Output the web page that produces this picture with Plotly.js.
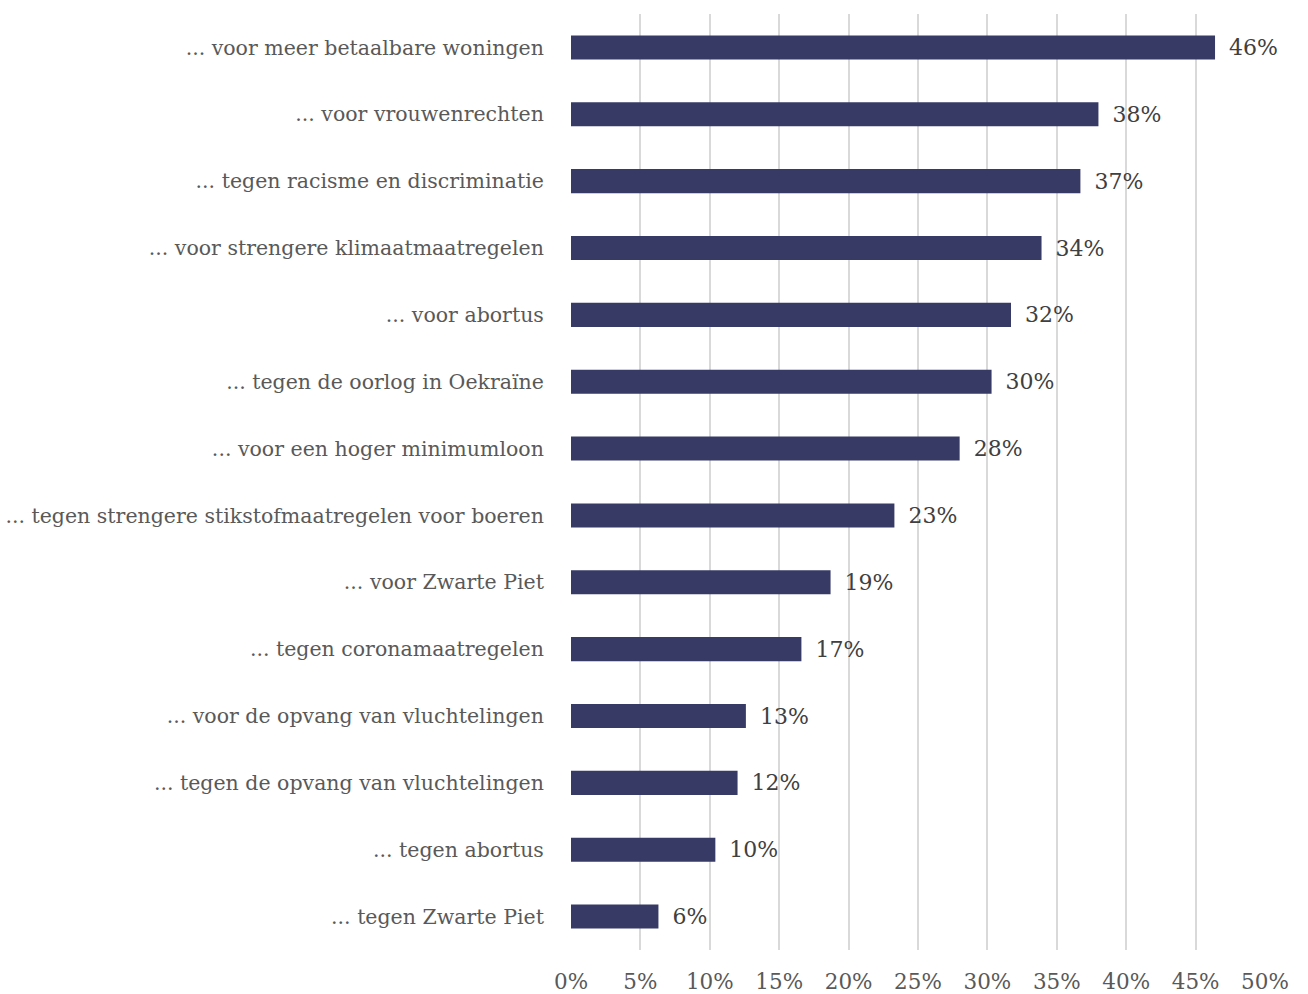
<!DOCTYPE html>
<html>
<head>
<meta charset="utf-8">
<script src="https://cdn.plot.ly/plotly-3.0.1.min.js"></script>
<style>html,body{margin:0;padding:0;background:#fff;}#chart{width:1308px;height:994px;}</style>
</head>
<body>
<div id="chart"></div>
<script>
const categories = [
  "... voor meer betaalbare woningen",
  "... voor vrouwenrechten",
  "... tegen racisme en discriminatie",
  "... voor strengere klimaatmaatregelen",
  "... voor abortus",
  "... tegen de oorlog in Oekraïne",
  "... voor een hoger minimumloon",
  "... tegen strengere stikstofmaatregelen voor boeren",
  "... voor Zwarte Piet",
  "... tegen coronamaatregelen",
  "... voor de opvang van vluchtelingen",
  "... tegen de opvang van vluchtelingen",
  "... tegen abortus",
  "... tegen Zwarte Piet"
];
const values = [46.4, 38.0, 36.7, 33.9, 31.7, 30.3, 28.0, 23.3, 18.7, 16.6, 12.6, 12.0, 10.4, 6.3];
const labels = ["46%", "38%", "37%", "34%", "32%", "30%", "28%", "23%", "19%", "17%", "13%", "12%", "10%", "6%"];
const tickVals = [0, 5, 10, 15, 20, 25, 30, 35, 40, 45, 50];
const tickText = ["0%", "5%", "10%", "15%", "20%", "25%", "30%", "35%", "40%", "45%", "50%"];

const font = "DejaVu Serif, Liberation Serif, serif";
Plotly.newPlot("chart", [{
  type: "bar",
  orientation: "h",
  y: categories,
  x: values,
  text: labels.map(t => "\u2002" + t),
  textposition: "outside",
  constraintext: "none",
  cliponaxis: false,
  textfont: {family: font, size: 22, color: "#404040"},
  marker: {color: "#363a65"},
  width: 0.36,
  hoverinfo: "skip"
}], {
  width: 1308, height: 994,
  margin: {l: 571, r: 43, t: 14, b: 44},
  paper_bgcolor: "#fff", plot_bgcolor: "#fff",
  showlegend: false,
  font: {family: font, color: "#595959"},
  xaxis: {
    range: [0, 50], tickvals: tickVals, ticktext: tickText,
    showgrid: true, gridcolor: "#d9d9d9", gridwidth: 2,
    zeroline: false, showline: false,
    ticks: "outside", ticklen: 12, tickcolor: "rgba(0,0,0,0)",
    tickfont: {family: font, size: 21.5, color: "#595959"},
    fixedrange: true
  },
  yaxis: {
    autorange: "reversed", showgrid: false, zeroline: false, showline: false,
    ticks: "outside", ticklen: 22, tickcolor: "rgba(0,0,0,0)",
    tickfont: {family: font, size: 20.5, color: "#595959"},
    fixedrange: true
  }
}, {displayModeBar: false, staticPlot: true});
</script>
</body>
</html>
